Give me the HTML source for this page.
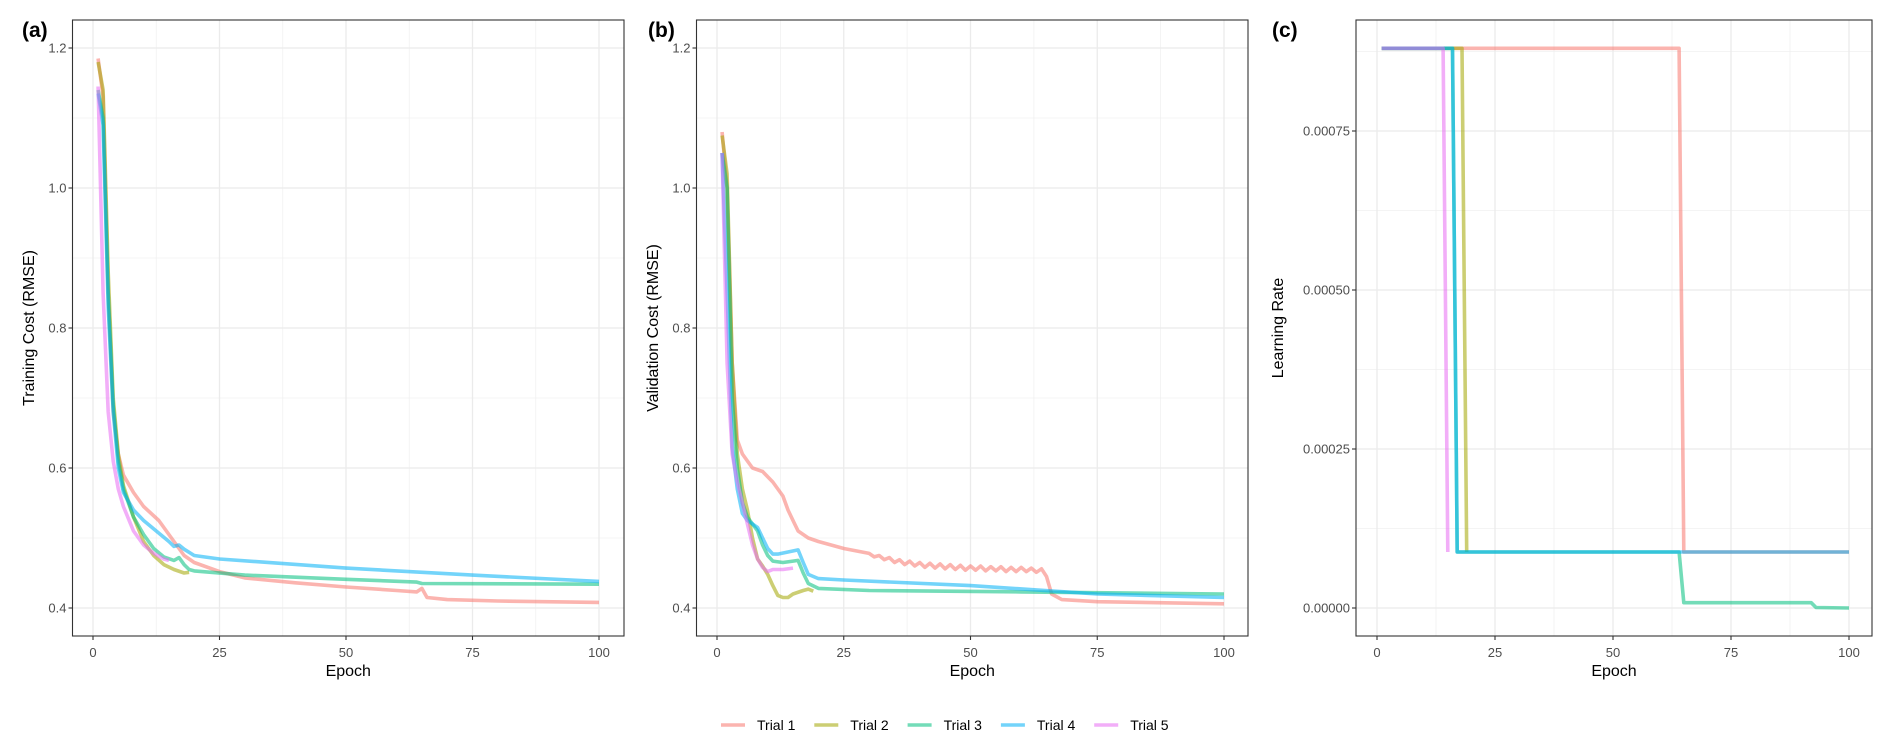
<!DOCTYPE html>
<html><head><meta charset="utf-8">
<style>
html,body{margin:0;padding:0;background:#fff;}
svg{display:block;font-family:"Liberation Sans",Arial,sans-serif;}
</style></head>
<body>
<svg id="chart" width="1892" height="750" viewBox="0 0 1892 750"></svg>
<script>
const trialNames = ["Trial 1","Trial 2","Trial 3","Trial 4","Trial 5"];
const trialColors = ["#F8766D","#A3A500","#00BF7D","#00B0F6","#E76BF3"];

// Panel (a) training cost
const trainEpochs = [
 [1,2,3,4,5,6,8,10,13,15,18,20,25,30,40,50,60,64,65,66,70,80,100],
 [1,2,3,4,5,6,8,10,12,14,16,18,19],
 [1,2,3,4,5,6,8,10,12,14,16,17,18,19,20,30,50,64,65,100],
 [1,2,3,4,5,6,8,10,12,15,16,17,18,20,25,50,75,100],
 [1,2,3,4,5,6,8,10,12,14,15]
];
const trainCost = [
 [1.185,1.13,0.85,0.68,0.62,0.59,0.565,0.545,0.525,0.505,0.475,0.465,0.452,0.443,0.436,0.430,0.425,0.423,0.428,0.415,0.412,0.410,0.408],
 [1.18,1.14,0.88,0.70,0.62,0.575,0.53,0.495,0.475,0.462,0.455,0.450,0.451],
 [1.14,1.10,0.85,0.69,0.61,0.57,0.53,0.505,0.485,0.473,0.468,0.472,0.462,0.455,0.453,0.447,0.441,0.437,0.435,0.434],
 [1.135,1.09,0.83,0.68,0.60,0.565,0.54,0.525,0.513,0.495,0.488,0.49,0.484,0.475,0.470,0.457,0.447,0.438],
 [1.145,0.85,0.68,0.61,0.57,0.545,0.51,0.49,0.478,0.470,0.468]
];

// Panel (b) validation cost
const valEpochs = [
 [1,2,3,4,5,6,7,9,11,13,14,15,16,18,20,25,30,31,32,33,34,35,36,37,38,39,40,41,42,43,44,45,46,47,48,49,50,51,52,53,54,55,56,57,58,59,60,61,62,63,64,65,66,68,75,100],
 [1,2,3,4,5,6,7,8,9,10,11,12,13,14,15,17,18,19],
 [1,2,3,4,5,6,7,8,9,10,11,13,15,16,17,18,20,30,60,100],
 [1,2,3,4,5,6,8,9,10,11,12,14,16,17,18,20,25,50,75,100],
 [1,2,3,4,5,6,7,8,9,10,11,13,15]
];
const valCost = [
 [1.08,1.0,0.75,0.64,0.62,0.61,0.60,0.595,0.58,0.56,0.54,0.525,0.51,0.50,0.495,0.485,0.478,0.473,0.475,0.469,0.472,0.465,0.469,0.462,0.467,0.460,0.465,0.458,0.464,0.457,0.463,0.456,0.462,0.455,0.461,0.454,0.460,0.454,0.460,0.453,0.459,0.453,0.459,0.452,0.458,0.452,0.458,0.452,0.457,0.451,0.456,0.445,0.42,0.412,0.409,0.406],
 [1.075,1.02,0.75,0.62,0.57,0.54,0.50,0.47,0.46,0.448,0.432,0.418,0.415,0.415,0.42,0.425,0.427,0.424],
 [1.05,1.0,0.70,0.60,0.55,0.53,0.52,0.51,0.49,0.475,0.467,0.465,0.467,0.468,0.45,0.435,0.428,0.425,0.423,0.42],
 [1.05,0.85,0.63,0.57,0.535,0.525,0.515,0.50,0.485,0.477,0.477,0.48,0.483,0.465,0.448,0.442,0.44,0.432,0.42,0.415],
 [1.05,0.75,0.62,0.58,0.55,0.52,0.49,0.47,0.458,0.452,0.455,0.455,0.457]
];

// Panel (c) learning rate
const lrEpochs = [
 [1,64,65,100],
 [1,18,19],
 [1,16,17,64,65,92,93,100],
 [1,16,17,100],
 [1,14,15]
];
const lrValues = [
 [0.00088,0.00088,0.000088,0.000088],
 [0.00088,0.00088,0.000088],
 [0.00088,0.00088,0.000088,0.000088,0.0000083,0.0000083,0.0000008,0],
 [0.00088,0.00088,0.000088,0.000088],
 [0.00088,0.00088,0.000088]
];

const xTicks = [0,25,50,75,100];
const costTicks = [0.4,0.6,0.8,1.0,1.2];
const costTickLabels = ["0.4","0.6","0.8","1.0","1.2"];
const lrTicks = [0,0.00025,0.0005,0.00075];
const lrTickLabels = ["0.00000","0.00025","0.00050","0.00075"];

const NS = "http://www.w3.org/2000/svg";
const svg = document.getElementById("chart");
function mk(tag, attrs, parent){
  const e = document.createElementNS(NS, tag);
  for (const k in attrs) e.setAttribute(k, attrs[k]);
  (parent||svg).appendChild(e);
  return e;
}

function panel(cfg){
  const g = mk("g", {});
  
  
  const L=cfg.left,R=cfg.right,T=20,B=636;
  const xs = v => cfg.x0 + (v/100)*(cfg.x100-cfg.x0);
  const ys = v => cfg.yBase + (v - cfg.yBaseVal)*cfg.yScale;
  for (let i=0;i<xTicks.length-1;i++){
    const m=(xTicks[i]+xTicks[i+1])/2;
    const l=mk("line",{x1:xs(m),x2:xs(m),y1:T,y2:B,stroke:"#f0f0f0","stroke-width":0.8},g);
    
    
  }
  cfg.minorY.forEach(m=>{
    const y=ys(m); if(y<T||y>B) return;
    const l=mk("line",{x1:L,x2:R,y1:y,y2:y,stroke:"#f0f0f0","stroke-width":0.8},g);
    
    
  });
  xTicks.forEach(t=>{
    const l=mk("line",{x1:xs(t),x2:xs(t),y1:T,y2:B,stroke:"#ebebeb","stroke-width":1.3},g);
    
    
  });
  cfg.yTicks.forEach(t=>{
    const l=mk("line",{x1:L,x2:R,y1:ys(t),y2:ys(t),stroke:"#ebebeb","stroke-width":1.3},g);
    
    
  });
  for (let s=0;s<5;s++){
    const ep=cfg.epochs[s], vals=cfg.values[s];
    const d=ep.map((e,i)=>(i?"L":"M")+xs(e).toFixed(1)+","+ys(vals[i]).toFixed(1)).join(" ");
    const p=mk("path",{d:d,fill:"none",stroke:trialColors[s],"stroke-opacity":0.55,"stroke-width":3.6,"stroke-linejoin":"round","stroke-linecap":"butt"},g);
    
    
  }
  const bd=mk("rect",{x:L,y:T,width:R-L,height:B-T,fill:"none",stroke:"#333","stroke-width":1.1},g);
  
  
  xTicks.forEach(t=>{
    const x=xs(t);
    const tk=mk("line",{x1:x,x2:x,y1:B,y2:B+4,stroke:"#333","stroke-width":1.1},g);
    
    
    const tx=mk("text",{x:x,y:B+21,"text-anchor":"middle","font-size":13,fill:"#4d4d4d"},g);
    tx.textContent=t;
    
    
  });
  cfg.yTicks.forEach((t,i)=>{
    const y=ys(t);
    const tk=mk("line",{x1:L-4,x2:L,y1:y,y2:y,stroke:"#333","stroke-width":1.1},g);
    
    
    const tx=mk("text",{x:L-6,y:y+4.5,"text-anchor":"end","font-size":13,fill:"#4d4d4d"},g);
    tx.textContent=cfg.yLabels[i];
    
    
  });
  const xt=mk("text",{x:(L+R)/2,y:676,"text-anchor":"middle","font-size":16,fill:"#000"},g);
  xt.textContent="Epoch";
  
  
  const yt=mk("text",{x:0,y:0,"text-anchor":"middle","font-size":16,fill:"#000",transform:"translate("+cfg.ytX+",328) rotate(-90)"},g);
  yt.textContent=cfg.yTitle;
  
  
  const pl=mk("text",{x:cfg.labX,y:37,"font-size":21,"font-weight":"bold",fill:"#000"},g);
  pl.textContent=cfg.label;
  
  
}

panel({name:"panel-a-training-cost",left:72.5,right:624,x0:93,x100:599,yBase:608,yBaseVal:0.4,yScale:-700,
  yTicks:costTicks,yLabels:costTickLabels,minorY:[0.5,0.7,0.9,1.1],epochs:trainEpochs,values:trainCost,
  yTitle:"Training Cost (RMSE)",ytX:34,labX:22,label:"(a)"});
panel({name:"panel-b-validation-cost",left:696.5,right:1248,x0:717,x100:1224,yBase:608,yBaseVal:0.4,yScale:-700,
  yTicks:costTicks,yLabels:costTickLabels,minorY:[0.5,0.7,0.9,1.1],epochs:valEpochs,values:valCost,
  yTitle:"Validation Cost (RMSE)",ytX:658,labX:648,label:"(b)"});
panel({name:"panel-c-learning-rate",left:1356,right:1872,x0:1377,x100:1849,yBase:608,yBaseVal:0,yScale:-636000,
  yTicks:lrTicks,yLabels:lrTickLabels,minorY:[0.000125,0.000375,0.000625,0.000875],epochs:lrEpochs,values:lrValues,
  yTitle:"Learning Rate",ytX:1283,labX:1272,label:"(c)"});

const lg = mk("g",{});


for (let s=0;s<5;s++){
  const kx = 721 + s*93.3;
  const ln = mk("line",{x1:kx,x2:kx+24,y1:725,y2:725,stroke:trialColors[s],"stroke-opacity":0.55,"stroke-width":3.6},lg);
  
  
  const tx = mk("text",{x:kx+36,y:730,"font-size":14,fill:"#000"},lg);
  tx.textContent = trialNames[s];
  
  
}
</script>
</body></html>
